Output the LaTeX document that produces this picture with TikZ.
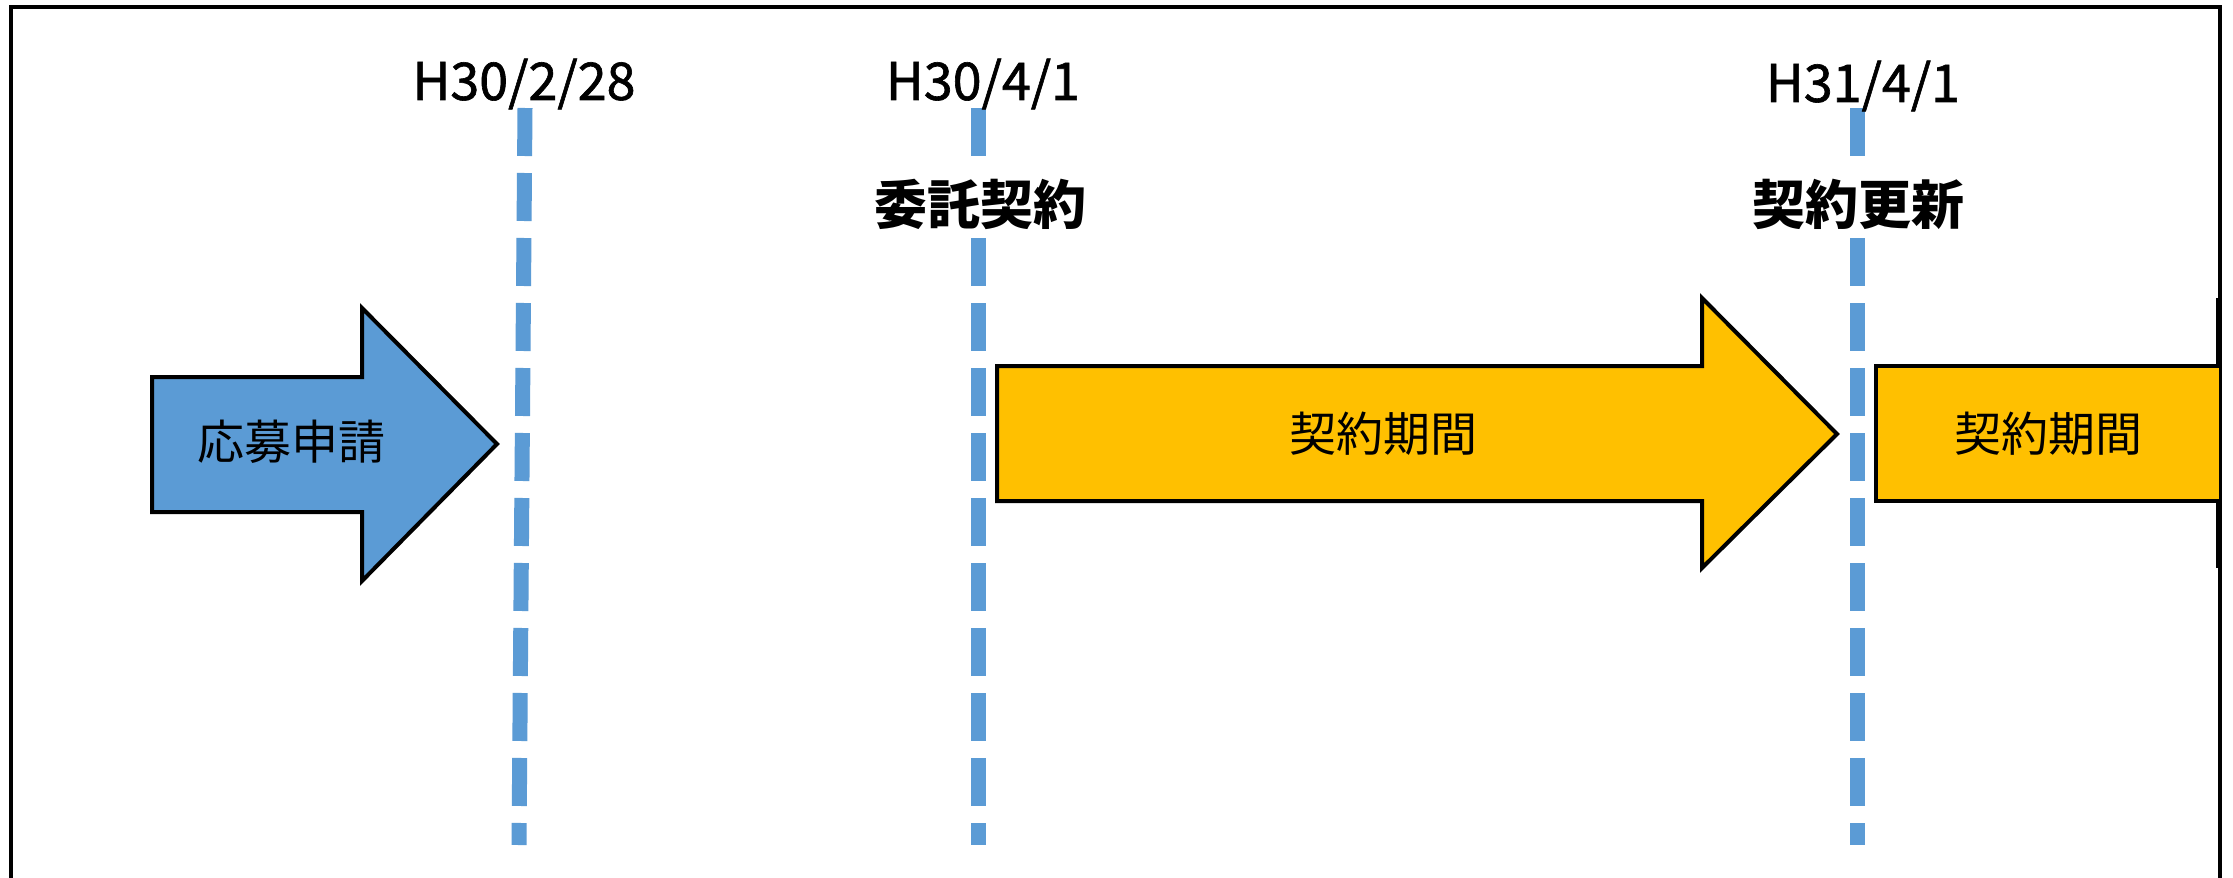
\documentclass[tikz,border=0pt]{standalone}
\usepackage{fontspec}
\setmainfont{Noto Sans CJK JP}
\newfontfamily\datefont{Noto Sans CJK JP}[FakeBold=1.2]
\definecolor{dashblue}{HTML}{5B9BD5}
\definecolor{arrowblue}{HTML}{5B9BD5}
\definecolor{arrowyellow}{HTML}{FFC000}
\begin{document}
\begin{tikzpicture}[x=1pt,y=-1pt,
  frame/.style={line width=4.5pt},
  arrowshape/.style={draw=black,line width=4pt,line join=miter},
  guide/.style={dashblue,line width=15pt,dash pattern=on 48pt off 17pt},
  datelbl/.style={font=\datefont\fontsize{52}{52}\selectfont,inner sep=0pt,anchor=center},
  eventlbl/.style={font=\fontsize{53}{53}\selectfont\bfseries,inner xsep=2pt,inner ysep=9pt,fill=white,anchor=center},
  arrowlbl/.style={font=\fontsize{47}{47}\selectfont,inner sep=0pt,anchor=center}]
\useasboundingbox (0,0) rectangle (2233,878);
\fill[white] (0,0) rectangle (2233,878);
% frame
\draw[frame] (11,878) -- (11,7) -- (2220,7) -- (2220,878);
\draw[line width=6pt] (2219,298) -- (2219,568);
% guide lines
\coordinate (g1t) at (525,108); \coordinate (g1b) at (519,845);
\coordinate (g2t) at (978,108); \coordinate (g2b) at (978,845);
\coordinate (g3t) at (1857,108); \coordinate (g3b) at (1857,845);
\draw[guide] (g1t) -- (g1b);
\draw[guide] (g2t) -- (g2b);
\draw[guide] (g3t) -- (g3b);
% arrows
\draw[arrowshape,fill=arrowblue] (152,377) -- (362,377) -- (362,308) -- (497,444) -- (362,581) -- (362,512) -- (152,512) -- cycle;
\draw[arrowshape,fill=arrowyellow] (997,366) -- (1702,366) -- (1702,298) -- (1837,434) -- (1702,568) -- (1702,501) -- (997,501) -- cycle;
\fill[arrowyellow] (1876,366) rectangle (2219,501);
\draw[arrowshape] (2219,366) -- (1876,366) -- (1876,501) -- (2219,501);
% labels
\node[datelbl] (d1) at (524,84) {H30/2/28};
\node[datelbl] (d2) at (983,84) {H30/4/1};
\node[datelbl] (d3) at (1863,86) {H31/4/1};
\node[eventlbl] (e1) at (980,204) {委託契約};
\node[eventlbl] (e2) at (1858,204) {契約更新};
\node[arrowlbl] (a1) at (291,442) {応募申請};
\node[arrowlbl] (a2) at (1383,434) {契約期間};
\node[arrowlbl] (a3) at (2048,434) {契約期間};
\end{tikzpicture}
\end{document}
